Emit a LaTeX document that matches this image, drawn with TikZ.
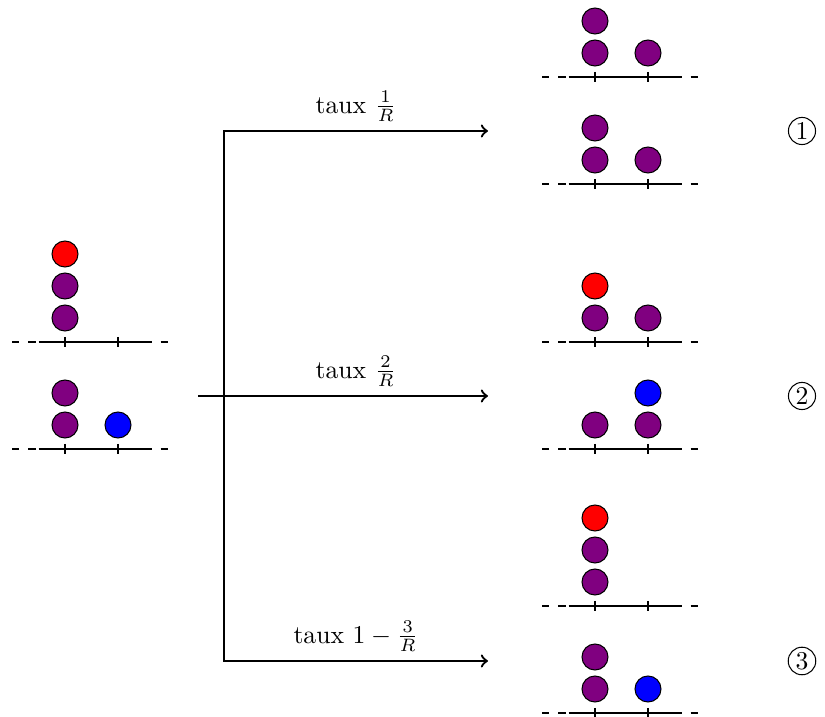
\documentclass[tikz,border=0pt]{standalone}
\usepackage{tikz}
\definecolor{ballpurple}{RGB}{128,0,128}
\definecolor{ballred}{RGB}{255,0,0}
\definecolor{ballblue}{RGB}{0,0,255}
\tikzset{
  ball/.style={draw=black, line width=0.4pt},
  axisline/.style={line width=0.4pt},
  axisdash/.style={line width=0.4pt, dash pattern=on 2.9pt off 3.4pt},
  flow/.style={line width=0.9pt, ->},
  tag/.style={draw, circle, inner sep=0.8pt, line width=0.4pt},
  ratelabel/.style={above},
}
\newcommand\drawaxis{%
  \draw[axisdash] (-53,0) -- (-26.5,0);
  \draw[axisline] (-26.5,0) -- (79.5,0);
  \draw[axisdash] (79.5,0) -- (106,0);
  \draw[axisline] (0,-5) -- (0,5);
  \draw[axisline] (53,-5) -- (53,5);
}
\newcommand\ballat[3]{\draw[ball, fill=#3] ({#1*53}, {-24-32*#2}) circle (5.07pt);}
\begin{document}
\begin{tikzpicture}[x=0.39pt, y=-0.39pt]
\useasboundingbox (0,0) rectangle (825,717);

% left configurations
\begin{scope}[shift={(65,342)}]
  \drawaxis
  \ballat{0}{0}{ballpurple}
  \ballat{0}{1}{ballpurple}
  \ballat{0}{2}{ballred}
\end{scope}
\begin{scope}[shift={(65,449)}]
  \drawaxis
  \ballat{0}{0}{ballpurple}
  \ballat{0}{1}{ballpurple}
  \ballat{1}{0}{ballblue}
\end{scope}

% right configurations: case 1
\begin{scope}[shift={(595,77)}]
  \drawaxis
  \ballat{0}{0}{ballpurple}
  \ballat{0}{1}{ballpurple}
  \ballat{1}{0}{ballpurple}
\end{scope}
\begin{scope}[shift={(595,184)}]
  \drawaxis
  \ballat{0}{0}{ballpurple}
  \ballat{0}{1}{ballpurple}
  \ballat{1}{0}{ballpurple}
\end{scope}

% case 2
\begin{scope}[shift={(595,342)}]
  \drawaxis
  \ballat{0}{0}{ballpurple}
  \ballat{0}{1}{ballred}
  \ballat{1}{0}{ballpurple}
\end{scope}
\begin{scope}[shift={(595,449)}]
  \drawaxis
  \ballat{0}{0}{ballpurple}
  \ballat{1}{0}{ballpurple}
  \ballat{1}{1}{ballblue}
\end{scope}

% case 3
\begin{scope}[shift={(595,606)}]
  \drawaxis
  \ballat{0}{0}{ballpurple}
  \ballat{0}{1}{ballpurple}
  \ballat{0}{2}{ballred}
\end{scope}
\begin{scope}[shift={(595,713)}]
  \drawaxis
  \ballat{0}{0}{ballpurple}
  \ballat{0}{1}{ballpurple}
  \ballat{1}{0}{ballblue}
\end{scope}

% arrows
\coordinate (src) at (198,396);
\coordinate (hub) at (224,396);
\coordinate (e1) at (488,131);
\coordinate (e2) at (488,396);
\coordinate (e3) at (488,661);
\coordinate (c1) at (224,131);
\coordinate (c3) at (224,661);

\draw[flow] (hub) |- (e1);
\draw[flow] (hub) |- (e3);
\draw[flow] (src) -- (e2);

\path (c1) -- (e1) node[midway, ratelabel] (l1) {taux $\frac{1}{R}$};
\path (hub) -- (e2) node[midway, ratelabel] (l2) {taux $\frac{2}{R}$};
\path (c3) -- (e3) node[midway, ratelabel] (l3) {taux $1-\frac{3}{R}$};

% case tags
\node[tag] (t1) at (802,131) {1};
\node[tag] (t2) at (802,396) {2};
\node[tag] (t3) at (802,661) {3};
\end{tikzpicture}
\end{document}
